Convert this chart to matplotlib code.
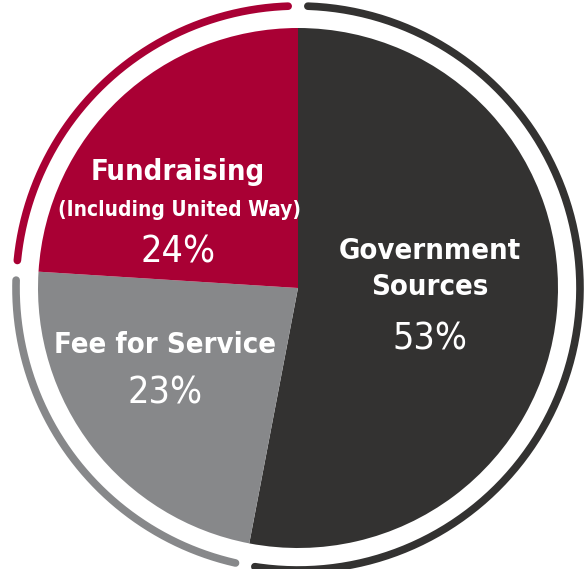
import numpy as np
import matplotlib.pyplot as plt

# Datos del gráfico
categorias = ['Government\nSources', 'Fee for Service', 'Fundraising']
porcentajes = [53, 23, 24]
colores = ['#333231', '#87888a', '#a90034']

plt.rcParams['font.family'] = ['DejaVu Sans']
plt.rcParams['font.stretch'] = 'condensed'

fig = plt.figure(figsize=(5.88, 5.69), dpi=100)
ax = fig.add_axes([0, 0, 1, 1])

cx, cy, r = 298, 281, 260

# Pastel principal, empieza arriba y gira en sentido horario
ax.pie(porcentajes, colors=colores, startangle=90, counterclock=False,
       center=(cx, cy), radius=r, wedgeprops=dict(linewidth=0), frame=True)
ax.set_xlim(0, 588)
ax.set_ylim(0, 569)
ax.set_aspect('equal')
ax.axis('off')

# Anillo exterior con huecos en cada frontera
r_anillo = 282
gap = 2.0
inicio = 90
for pct, color in zip(porcentajes, colores):
    fin = inicio - pct * 3.6
    ang = np.radians(np.linspace(inicio - gap, fin + gap, 200))
    ax.plot(cx + r_anillo * np.cos(ang), cy + r_anillo * np.sin(ang),
            color=color, lw=5.5, solid_capstyle='round')
    inicio = fin

# Etiquetas
ax.text(178, 397, 'Fundraising', ha='center', va='center', color='white',
        fontsize=21, fontweight='bold', fontstretch='condensed')
ax.text(180, 359, '(Including United Way)', ha='center', va='center', color='white',
        fontsize=15, fontweight='bold', fontstretch='condensed')
ax.text(178, 317, f'{porcentajes[2]}%', ha='center', va='center', color='white',
        fontsize=27, fontstretch='condensed')

ax.text(430, 300, categorias[0], ha='center', va='center', color='white',
        fontsize=21, fontweight='bold', linespacing=1.4, fontstretch='condensed')
ax.text(430, 229, f'{porcentajes[0]}%', ha='center', va='center', color='white',
        fontsize=27, fontstretch='condensed')

ax.text(165, 224, categorias[1], ha='center', va='center', color='white',
        fontsize=21, fontweight='bold', fontstretch='condensed')
ax.text(165, 176, f'{porcentajes[1]}%', ha='center', va='center', color='white',
        fontsize=27, fontstretch='condensed')

plt.savefig('out.png', dpi=100)
